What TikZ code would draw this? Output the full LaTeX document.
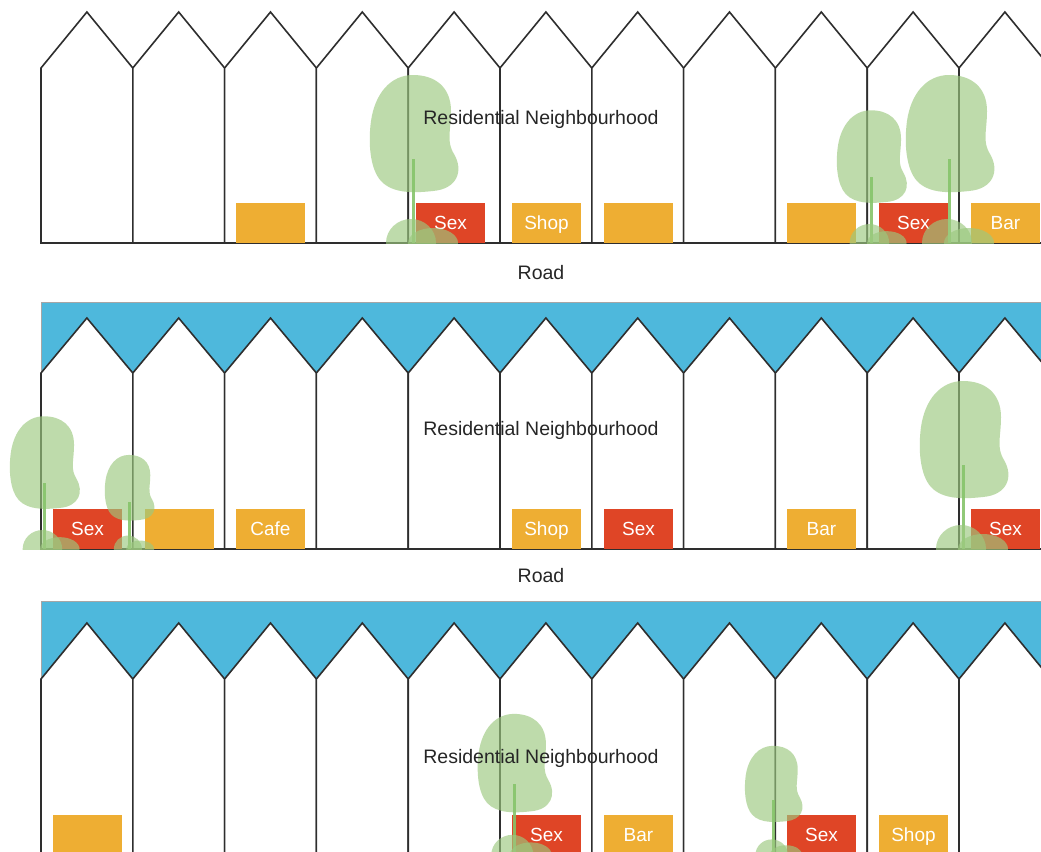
\documentclass[tikz,border=0pt]{standalone}
\usepackage{fontspec}
\setmainfont{Liberation Sans}
\definecolor{skyblue}{HTML}{4EB8DC}
\definecolor{shoporange}{HTML}{EEAE33}
\definecolor{sexred}{HTML}{DF4526}
\definecolor{leafgreen}{HTML}{9CC97F}
\definecolor{trunkgreen}{HTML}{86C46A}
\definecolor{wallgray}{HTML}{2E2E2E}
\tikzset{
	wall/.style={draw=wallgray, line width=1.6pt, line join=miter, fill=white},
	areatext/.style={font=\fontsize{19.5}{21}\selectfont, text=black!85},
	shopbox/.style={anchor=south west, minimum width=68.5pt, minimum height=40pt,
		inner sep=0pt, text height=13.5pt, text depth=0pt,
		font=\fontsize{19}{21}\selectfont, text=white},
	streettree/.pic={
		\fill[leafgreen, opacity=.65] (0,-168)
			.. controls (22,-168) and (38,-156) .. (38,-132)
			.. controls (38,-112) and (33,-102) .. (41,-89)
			.. controls (51,-72) and (44,-54) .. (20,-52)
			.. controls (2,-50) and (-20,-49) .. (-32,-62)
			.. controls (-43,-74) and (-45,-100) .. (-42,-122)
			.. controls (-38,-150) and (-22,-168) .. (0,-168) -- cycle;
		\draw[trunkgreen, line width=3pt, opacity=.9] (0,0) -- (0,-84);
		\begin{scope}
			\clip (-60,-40) rectangle (60,0);
			\fill[leafgreen, opacity=.65] (-2,0) ellipse (25 and 24);
			\fill[leafgreen, opacity=.65] (20,0) ellipse (25 and 15);
		\end{scope}
	}
}
\begin{document}
\begin{tikzpicture}[x=1pt, y=-1pt]
	\useasboundingbox (0,0) rectangle (1041,851);
	\clip (0,0) rectangle (1041,851);
	%%%%%%%% blue bands behind the roofs
	\foreach \top/\eave in {302/373, 601/679}{
		\fill[skyblue] (41,\top) rectangle (1060,\eave);
		\draw[gray!70, line width=.8pt] (41,\eave) -- (41,\top) -- (1060,\top);
	}
	%%%%%%%% rows of houses
	\foreach \base/\eave/\peak in {243/68/12, 549/373/318, 855/679/623}{
		\foreach \i in {0,...,10}{
			\pgfmathsetmacro\xl{41+91.8*\i}
			\filldraw[wall] (\xl,\base) -- (\xl,\eave) -- (\xl+45.9,\peak)
				-- (\xl+91.8,\eave) -- (\xl+91.8,\base) -- cycle;
		}
	}
	%%%%%%%% shops
	\foreach \x/\col/\txt in {236/shoporange/{}, 416/sexred/Sex, 512/shoporange/Shop,
		604/shoporange/{}, 787/shoporange/{}, 879/sexred/Sex, 971/shoporange/Bar}
		\node[shopbox, fill=\col] (shopa-\x) at (\x,243) {\txt};
	\foreach \x/\col/\txt in {53/sexred/Sex, 145/shoporange/{}, 236/shoporange/Cafe,
		512/shoporange/Shop, 604/sexred/Sex, 787/shoporange/Bar, 971/sexred/Sex}
		\node[shopbox, fill=\col] (shopb-\x) at (\x,549) {\txt};
	\foreach \x/\col/\txt in {53/shoporange/{}, 512/sexred/Sex, 604/shoporange/Bar,
		787/sexred/Sex, 879/shoporange/Shop}
		\node[shopbox, fill=\col] (shopc-\x) at (\x,855) {\txt};
	%%%%%%%% trees
	\foreach \x/\y/\s in {413/243/1, 871/243/.79, 949/243/1, 44/549/.79, 129/549/.56,
		963/549/1, 514/855/.84, 773/855/.65}
		\pic[scale=\s] at (\x,\y) {streettree};
	%%%%%%%% labels
	\node[areatext] (areaa) at (541,119) {Residential Neighbourhood};
	\node[areatext] (roada) at (541,273) {Road};
	\node[areatext] (areab) at (541,430) {Residential Neighbourhood};
	\node[areatext] (roadb) at (541,576) {Road};
	\node[areatext] (areac) at (541,758) {Residential Neighbourhood};
\end{tikzpicture}
\end{document}
